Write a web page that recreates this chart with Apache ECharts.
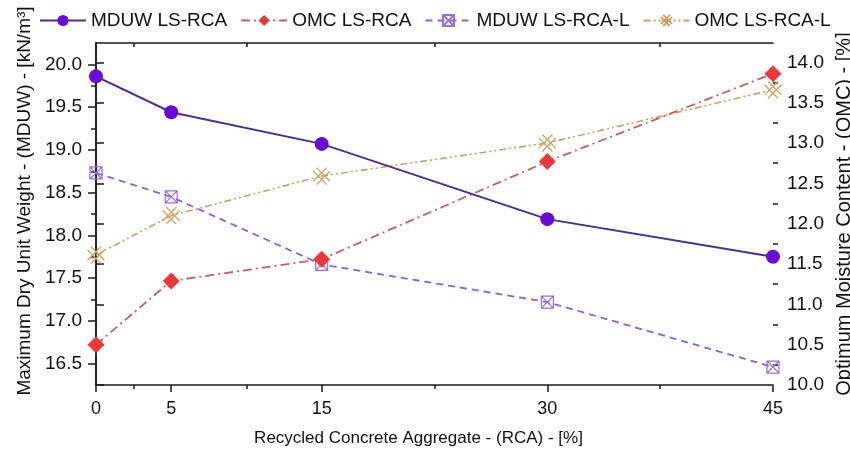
<!DOCTYPE html>
<html>
<head>
<meta charset="utf-8">
<script src="https://cdn.jsdelivr.net/npm/echarts@6/dist/echarts.min.js"></script>
<style>
  html, body { margin: 0; padding: 0; background: #fff; }
  #chart { width: 850px; height: 453px; }
</style>
</head>
<body>
<div id="chart"></div>
<script>
// RCA content (%) on the x axis
const rcaContent = [0, 5, 15, 30, 45];

// Maximum dry unit weight, kN/m³ (left axis)
const mduwLsRca  = [19.86, 19.44, 19.07, 18.19, 17.75];
const mduwLsRcaL = [18.73, 18.45, 17.66, 17.22, 16.46];

// Optimum moisture content, % (right axis)
const omcLsRca  = [10.50, 11.29, 11.56, 12.77, 13.86];
const omcLsRcaL = [11.61, 12.10, 12.59, 13.00, 13.66];

// Tick positions
const xLabelTicks = [0, 5, 15, 30, 45];
const xMinorTicks = [2.5, 10, 22.5, 37.5];
const leftMajor = [16.5, 17.0, 17.5, 18.0, 18.5, 19.0, 19.5, 20.0];
const leftMinor = [16.75, 17.25, 17.75, 18.25, 18.75, 19.25, 19.75];
const rightMajor = [10.0, 10.5, 11.0, 11.5, 12.0, 12.5, 13.0, 13.5, 14.0];
const rightMinor = [10.25, 10.75, 11.25, 11.75, 12.25, 12.75, 13.25, 13.75];

const pairs = (xs, ys) => xs.map((x, i) => [x, ys[i]]);

const FONT = 'Liberation Sans';
const AX = '#1a1a1a';

// boxed cross and lattice cross marker outlines
const boxCross = 'path://M0,0 L10,0 L10,10 L0,10 Z M0,0 L10,10 M10,0 L0,10';
const latticeCross = 'path://M0,2 L8,10 M2,0 L10,8 M0,8 L8,0 M2,10 L10,2';

const LEFT_MIN = 16.25, LEFT_MAX = 20.25;
const RIGHT_MIN = 10.0, RIGHT_MAX = 14.24;

const chart = echarts.init(document.getElementById('chart'), null, { renderer: 'canvas' });

chart.setOption({
  animation: false,
  backgroundColor: '#ffffff',
  textStyle: { fontFamily: FONT },
  grid: { left: 96, right: 77, top: 43, bottom: 68, containLabel: false, outerBoundsMode: 'none' },
  legend: {
    top: 6,
    left: 34,
    itemGap: 13,
    itemWidth: 46,
    itemHeight: 14,
    textStyle: { fontFamily: FONT, fontSize: 19, color: '#111' },
    data: ['MDUW LS-RCA', 'OMC LS-RCA', 'MDUW LS-RCA-L', 'OMC LS-RCA-L']
  },
  xAxis: [
    {
      type: 'value', position: 'bottom', min: 0, max: 45,
      name: 'Recycled Concrete Aggregate - (RCA) - [%]',
      nameLocation: 'middle', nameGap: 45,
      nameTextStyle: { fontFamily: FONT, fontSize: 17, color: '#111', padding: [0, 32, 0, 0] },
      axisLine: { show: true, lineStyle: { color: AX, width: 1.5 } },
      axisTick: { show: true, inside: false, length: 7, customValues: xLabelTicks, lineStyle: { color: AX, width: 1.5 } },
      axisLabel: { show: true, customValues: xLabelTicks, fontFamily: FONT, fontSize: 18, color: '#111', margin: 15 },
      splitLine: { show: false }
    },
    {
      type: 'value', position: 'bottom', min: 0, max: 45,
      axisLine: { show: false },
      axisTick: { show: true, inside: false, length: 4, customValues: xMinorTicks, lineStyle: { color: AX, width: 1.5 } },
      axisLabel: { show: false },
      splitLine: { show: false }
    },
    {
      type: 'value', position: 'top', min: 0, max: 45,
      axisLine: { show: true, lineStyle: { color: AX, width: 1.5 } },
      axisTick: { show: true, inside: true, length: 4, customValues: xMinorTicks, lineStyle: { color: AX, width: 1.5 } },
      axisLabel: { show: false },
      splitLine: { show: false }
    }
  ],
  yAxis: [
    {
      type: 'value', position: 'left', min: LEFT_MIN, max: LEFT_MAX,
      name: 'Maximum Dry Unit Weight - (MDUW) - [kN/m³]',
      nameLocation: 'middle', nameGap: 61,
      nameTextStyle: { fontFamily: FONT, fontSize: 19, color: '#111', padding: [0, 0, 0, 26] },
      axisLine: { show: true, lineStyle: { color: AX, width: 1.5 } },
      axisTick: { show: true, inside: false, length: 8, customValues: leftMajor, lineStyle: { color: AX, width: 1.5 } },
      axisLabel: { show: true, customValues: leftMajor, fontFamily: FONT, fontSize: 19, color: '#111', margin: 14,
        formatter: v => v.toFixed(1) },
      splitLine: { show: false }
    },
    {
      type: 'value', position: 'right', min: RIGHT_MIN, max: RIGHT_MAX,
      name: 'Optimum Moisture Content - (OMC) - [%]',
      nameLocation: 'middle', nameGap: 58,
      nameTextStyle: { fontFamily: FONT, fontSize: 20, color: '#111' },
      axisLine: { show: true, lineStyle: { color: AX, width: 1.5 } },
      axisTick: { show: true, inside: false, length: 8, customValues: rightMajor, lineStyle: { color: AX, width: 1.5 } },
      axisLabel: { show: true, customValues: rightMajor, fontFamily: FONT, fontSize: 19, color: '#111', margin: 14,
        formatter: v => v.toFixed(1) },
      splitLine: { show: false }
    },
    {
      type: 'value', position: 'left', min: LEFT_MIN, max: LEFT_MAX,
      axisLine: { show: false },
      axisTick: { show: true, inside: false, length: 5, customValues: leftMinor, lineStyle: { color: AX, width: 1.5 } },
      axisLabel: { show: false },
      splitLine: { show: false }
    },
    {
      type: 'value', position: 'right', min: RIGHT_MIN, max: RIGHT_MAX,
      axisLine: { show: false },
      axisTick: { show: true, inside: false, length: 5, customValues: rightMinor, lineStyle: { color: AX, width: 1.5 } },
      axisLabel: { show: false },
      splitLine: { show: false }
    }
  ],
  series: [
    {
      name: 'MDUW LS-RCA', type: 'line', xAxisIndex: 0, yAxisIndex: 0,
      data: pairs(rcaContent, mduwLsRca),
      symbol: 'circle', symbolSize: 14,
      lineStyle: { color: '#4b2d8f', width: 2, type: 'solid' },
      itemStyle: { color: '#6a0ad6' },
      z: 5
    },
    {
      name: 'OMC LS-RCA', type: 'line', xAxisIndex: 0, yAxisIndex: 1,
      data: pairs(rcaContent, omcLsRca),
      symbol: 'diamond', symbolSize: 17,
      lineStyle: { color: '#c2615c', width: 1.8, type: [9, 4, 2, 4] },
      itemStyle: { color: '#e83a3c' },
      z: 4
    },
    {
      name: 'MDUW LS-RCA-L', type: 'line', xAxisIndex: 0, yAxisIndex: 0,
      data: pairs(rcaContent, mduwLsRcaL),
      symbol: boxCross, symbolSize: 12,
      lineStyle: { color: '#8c5fd6', width: 1.8, type: [7, 5] },
      itemStyle: { color: 'rgba(0,0,0,0)', borderColor: '#9a6ce0', borderWidth: 1.2 },
      z: 3
    },
    {
      name: 'OMC LS-RCA-L', type: 'line', xAxisIndex: 0, yAxisIndex: 1,
      data: pairs(rcaContent, omcLsRcaL),
      symbol: latticeCross, symbolSize: 17,
      lineStyle: { color: '#c9a06a', width: 1.6, type: [7, 3, 2, 3, 2, 3] },
      itemStyle: { color: 'rgba(0,0,0,0)', borderColor: '#cfa15e', borderWidth: 1.3 },
      z: 3
    }
  ]
});
</script>
</body>
</html>
